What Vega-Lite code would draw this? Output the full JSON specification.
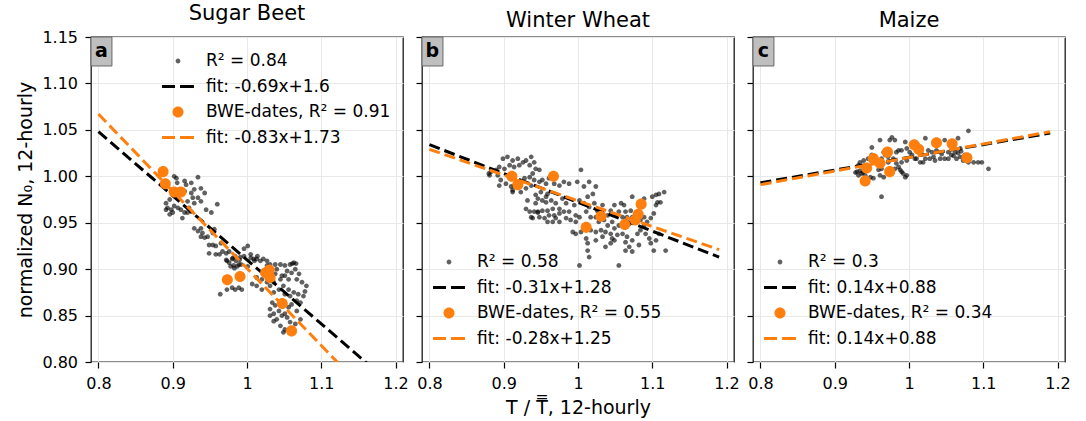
{
  "$schema": "https://vega.github.io/schema/vega-lite/v6.json",
  "padding": {"left": 16, "top": 2, "right": 5, "bottom": 5},
  "bounds": "flush",
  "config": {
    "font": "DejaVu Sans",
    "view": {"stroke": "#1a1a1a", "strokeWidth": 1.3},
    "axis": {"domain": false, "grid": true, "gridColor": "#e8e8e8", "gridWidth": 1, "tickColor": "#000", "tickSize": 6, "tickWidth": 1.2, "labelColor": "#000", "labelFontSize": 16, "titleColor": "#000", "titleFontSize": 19, "titleFontWeight": "normal", "labelFont": "DejaVu Sans", "titleFont": "DejaVu Sans"},
    "legend": {"labelFontSize": 17, "labelFont": "DejaVu Sans", "labelColor": "#000", "labelLimit": 400, "symbolSize": 576, "symbolStrokeWidth": 0, "labelOffset": 16, "rowPadding": 5.5, "padding": 0},
    "title": {"fontSize": 21, "fontWeight": "normal", "color": "#000", "offset": 5, "font": "DejaVu Sans"}
  },
  "datasets": {
    "pts": [
      {"p":"a","s":"all","x":0.905,"y":0.998},{"p":"a","s":"all","x":0.916,"y":0.995},{"p":"a","s":"all","x":0.925,"y":0.993},{"p":"a","s":"all","x":0.934,"y":0.999},{"p":"a","s":"all","x":0.906,"y":0.993},{"p":"a","s":"all","x":0.918,"y":0.991},{"p":"a","s":"all","x":0.898,"y":0.984},{"p":"a","s":"all","x":0.900,"y":0.980},{"p":"a","s":"all","x":0.909,"y":0.986},{"p":"a","s":"all","x":0.916,"y":0.984},{"p":"a","s":"all","x":0.925,"y":0.982},{"p":"a","s":"all","x":0.929,"y":0.986},{"p":"a","s":"all","x":0.938,"y":0.987},{"p":"a","s":"all","x":0.943,"y":0.982},{"p":"a","s":"all","x":0.934,"y":0.977},{"p":"a","s":"all","x":0.938,"y":0.973},{"p":"a","s":"all","x":0.927,"y":0.977},{"p":"a","s":"all","x":0.920,"y":0.973},{"p":"a","s":"all","x":0.929,"y":0.971},{"p":"a","s":"all","x":0.896,"y":0.975},{"p":"a","s":"all","x":0.891,"y":0.971},{"p":"a","s":"all","x":0.893,"y":0.966},{"p":"a","s":"all","x":0.898,"y":0.964},{"p":"a","s":"all","x":0.902,"y":0.968},{"p":"a","s":"all","x":0.907,"y":0.966},{"p":"a","s":"all","x":0.911,"y":0.964},{"p":"a","s":"all","x":0.916,"y":0.961},{"p":"a","s":"all","x":0.913,"y":0.955},{"p":"a","s":"all","x":0.920,"y":0.961},{"p":"a","s":"all","x":0.925,"y":0.962},{"p":"a","s":"all","x":0.922,"y":0.966},{"p":"a","s":"all","x":0.891,"y":0.964},{"p":"a","s":"all","x":0.896,"y":0.959},{"p":"a","s":"all","x":0.900,"y":0.961},{"p":"a","s":"all","x":0.960,"y":0.970},{"p":"a","s":"all","x":0.945,"y":0.964},{"p":"a","s":"all","x":0.952,"y":0.961},{"p":"a","s":"all","x":0.929,"y":0.944},{"p":"a","s":"all","x":0.934,"y":0.941},{"p":"a","s":"all","x":0.940,"y":0.939},{"p":"a","s":"all","x":0.938,"y":0.944},{"p":"a","s":"all","x":0.943,"y":0.934},{"p":"a","s":"all","x":0.947,"y":0.935},{"p":"a","s":"all","x":0.938,"y":0.935},{"p":"a","s":"all","x":0.954,"y":0.939},{"p":"a","s":"all","x":0.956,"y":0.943},{"p":"a","s":"all","x":0.949,"y":0.926},{"p":"a","s":"all","x":0.954,"y":0.926},{"p":"a","s":"all","x":0.958,"y":0.925},{"p":"a","s":"all","x":0.965,"y":0.928},{"p":"a","s":"all","x":0.949,"y":0.917},{"p":"a","s":"all","x":0.958,"y":0.916},{"p":"a","s":"all","x":0.963,"y":0.916},{"p":"a","s":"all","x":0.972,"y":0.917},{"p":"a","s":"all","x":0.976,"y":0.919},{"p":"a","s":"all","x":0.967,"y":0.919},{"p":"a","s":"all","x":0.972,"y":0.910},{"p":"a","s":"all","x":0.981,"y":0.912},{"p":"a","s":"all","x":0.985,"y":0.909},{"p":"a","s":"all","x":0.976,"y":0.907},{"p":"a","s":"all","x":0.990,"y":0.910},{"p":"a","s":"all","x":0.992,"y":0.905},{"p":"a","s":"all","x":1.001,"y":0.925},{"p":"a","s":"all","x":0.996,"y":0.914},{"p":"a","s":"all","x":1.001,"y":0.903},{"p":"a","s":"all","x":1.005,"y":0.912},{"p":"a","s":"all","x":1.010,"y":0.909},{"p":"a","s":"all","x":1.014,"y":0.914},{"p":"a","s":"all","x":0.987,"y":0.903},{"p":"a","s":"all","x":0.983,"y":0.901},{"p":"a","s":"all","x":0.978,"y":0.903},{"p":"a","s":"all","x":0.902,"y":1.000},
      {"p":"a","s":"all","x":0.964,"y":0.873},{"p":"a","s":"all","x":0.973,"y":0.878},{"p":"a","s":"all","x":0.980,"y":0.880},{"p":"a","s":"all","x":0.984,"y":0.878},{"p":"a","s":"all","x":0.989,"y":0.880},{"p":"a","s":"all","x":0.993,"y":0.878},{"p":"a","s":"all","x":0.973,"y":0.909},{"p":"a","s":"all","x":0.980,"y":0.911},{"p":"a","s":"all","x":0.984,"y":0.914},{"p":"a","s":"all","x":0.989,"y":0.905},{"p":"a","s":"all","x":0.991,"y":0.913},{"p":"a","s":"all","x":0.982,"y":0.904},{"p":"a","s":"all","x":0.996,"y":0.922},{"p":"a","s":"all","x":1.005,"y":0.916},{"p":"a","s":"all","x":1.009,"y":0.911},{"p":"a","s":"all","x":1.013,"y":0.911},{"p":"a","s":"all","x":1.018,"y":0.909},{"p":"a","s":"all","x":1.022,"y":0.911},{"p":"a","s":"all","x":1.027,"y":0.909},{"p":"a","s":"all","x":1.031,"y":0.905},{"p":"a","s":"all","x":1.038,"y":0.905},{"p":"a","s":"all","x":1.045,"y":0.905},{"p":"a","s":"all","x":1.051,"y":0.904},{"p":"a","s":"all","x":1.058,"y":0.905},{"p":"a","s":"all","x":1.063,"y":0.907},{"p":"a","s":"all","x":1.054,"y":0.898},{"p":"a","s":"all","x":1.060,"y":0.896},{"p":"a","s":"all","x":1.067,"y":0.889},{"p":"a","s":"all","x":1.056,"y":0.889},{"p":"a","s":"all","x":1.045,"y":0.889},{"p":"a","s":"all","x":1.036,"y":0.886},{"p":"a","s":"all","x":1.049,"y":0.882},{"p":"a","s":"all","x":1.056,"y":0.878},{"p":"a","s":"all","x":1.063,"y":0.875},{"p":"a","s":"all","x":1.069,"y":0.873},{"p":"a","s":"all","x":1.058,"y":0.871},{"p":"a","s":"all","x":1.051,"y":0.873},{"p":"a","s":"all","x":1.043,"y":0.878},{"p":"a","s":"all","x":1.036,"y":0.875},{"p":"a","s":"all","x":1.031,"y":0.882},{"p":"a","s":"all","x":1.027,"y":0.886},{"p":"a","s":"all","x":1.020,"y":0.889},{"p":"a","s":"all","x":1.013,"y":0.891},{"p":"a","s":"all","x":1.007,"y":0.884},{"p":"a","s":"all","x":1.013,"y":0.882},{"p":"a","s":"all","x":1.020,"y":0.878},{"p":"a","s":"all","x":1.038,"y":0.895},{"p":"a","s":"all","x":1.047,"y":0.893},{"p":"a","s":"all","x":1.051,"y":0.893},{"p":"a","s":"all","x":1.040,"y":0.900},{"p":"a","s":"all","x":1.031,"y":0.896},{"p":"a","s":"all","x":1.022,"y":0.896},{"p":"a","s":"all","x":1.027,"y":0.904},{"p":"a","s":"all","x":1.034,"y":0.864},{"p":"a","s":"all","x":1.038,"y":0.861},{"p":"a","s":"all","x":1.031,"y":0.857},{"p":"a","s":"all","x":1.036,"y":0.852},{"p":"a","s":"all","x":1.043,"y":0.855},{"p":"a","s":"all","x":1.047,"y":0.850},{"p":"a","s":"all","x":1.051,"y":0.852},{"p":"a","s":"all","x":1.040,"y":0.846},{"p":"a","s":"all","x":1.045,"y":0.839},{"p":"a","s":"all","x":1.049,"y":0.832},{"p":"a","s":"all","x":1.051,"y":0.835},{"p":"a","s":"all","x":1.058,"y":0.843},{"p":"a","s":"all","x":1.065,"y":0.841},{"p":"a","s":"all","x":1.036,"y":0.844},{"p":"a","s":"all","x":1.031,"y":0.850},{"p":"a","s":"all","x":1.056,"y":0.859},{"p":"a","s":"all","x":1.060,"y":0.862},{"p":"a","s":"all","x":1.067,"y":0.866},{"p":"a","s":"all","x":1.072,"y":0.864},{"p":"a","s":"all","x":1.076,"y":0.871},{"p":"a","s":"all","x":1.067,"y":0.855},{"p":"a","s":"all","x":1.072,"y":0.846},{"p":"a","s":"all","x":1.054,"y":0.848},{"p":"a","s":"all","x":1.047,"y":0.866},{"p":"a","s":"all","x":1.080,"y":0.882},{"p":"a","s":"all","x":1.078,"y":0.876},{"p":"a","s":"all","x":1.074,"y":0.886},{"p":"a","s":"all","x":1.070,"y":0.895},{"p":"a","s":"all","x":1.065,"y":0.900},{"p":"a","s":"all","x":1.061,"y":0.906},{"p":"a","s":"all","x":1.066,"y":0.906},
      {"p":"a","s":"bwe","x":0.887,"y":1.005},{"p":"a","s":"bwe","x":0.890,"y":0.992},{"p":"a","s":"bwe","x":0.902,"y":0.983},{"p":"a","s":"bwe","x":0.911,"y":0.983},{"p":"a","s":"bwe","x":0.9735,"y":0.8885},{"p":"a","s":"bwe","x":0.9906,"y":0.892},{"p":"a","s":"bwe","x":1.025,"y":0.896},{"p":"a","s":"bwe","x":1.030,"y":0.899},{"p":"a","s":"bwe","x":1.031,"y":0.891},{"p":"a","s":"bwe","x":1.0475,"y":0.863},{"p":"a","s":"bwe","x":1.060,"y":0.8335},
      {"p":"b","s":"all","x":0.899,"y":1.019},{"p":"b","s":"all","x":0.905,"y":1.021},{"p":"b","s":"all","x":0.912,"y":1.017},{"p":"b","s":"all","x":0.919,"y":1.019},{"p":"b","s":"all","x":0.926,"y":1.015},{"p":"b","s":"all","x":0.930,"y":1.017},{"p":"b","s":"all","x":0.935,"y":1.012},{"p":"b","s":"all","x":0.921,"y":1.012},{"p":"b","s":"all","x":0.914,"y":1.010},{"p":"b","s":"all","x":0.908,"y":1.012},{"p":"b","s":"all","x":0.901,"y":1.008},{"p":"b","s":"all","x":0.894,"y":1.010},{"p":"b","s":"all","x":0.890,"y":1.007},{"p":"b","s":"all","x":0.883,"y":1.005},{"p":"b","s":"all","x":0.881,"y":1.001},{"p":"b","s":"all","x":0.892,"y":1.001},{"p":"b","s":"all","x":0.896,"y":0.996},{"p":"b","s":"all","x":0.903,"y":0.992},{"p":"b","s":"all","x":0.910,"y":0.989},{"p":"b","s":"all","x":0.912,"y":0.985},{"p":"b","s":"all","x":0.914,"y":0.990},{"p":"b","s":"all","x":0.921,"y":0.994},{"p":"b","s":"all","x":0.928,"y":0.998},{"p":"b","s":"all","x":0.935,"y":0.999},{"p":"b","s":"all","x":0.939,"y":1.003},{"p":"b","s":"all","x":0.941,"y":0.996},{"p":"b","s":"all","x":0.948,"y":0.994},{"p":"b","s":"all","x":0.952,"y":0.996},{"p":"b","s":"all","x":0.957,"y":0.992},{"p":"b","s":"all","x":0.943,"y":1.008},{"p":"b","s":"all","x":0.937,"y":0.990},{"p":"b","s":"all","x":0.930,"y":0.987},{"p":"b","s":"all","x":0.923,"y":0.983},{"p":"b","s":"all","x":0.912,"y":0.983},{"p":"b","s":"all","x":0.894,"y":0.990},{"p":"b","s":"all","x":0.937,"y":1.021},{"p":"b","s":"all","x":0.941,"y":1.015},{"p":"b","s":"all","x":0.948,"y":1.007},{"p":"b","s":"all","x":0.961,"y":0.998},{"p":"b","s":"all","x":0.968,"y":0.992},{"p":"b","s":"all","x":0.975,"y":0.990},{"p":"b","s":"all","x":0.981,"y":0.994},{"p":"b","s":"all","x":0.988,"y":0.992},{"p":"b","s":"all","x":0.950,"y":0.983},{"p":"b","s":"all","x":0.959,"y":0.981},{"p":"b","s":"all","x":0.946,"y":0.976},{"p":"b","s":"all","x":0.952,"y":0.974},{"p":"b","s":"all","x":0.943,"y":0.971},{"p":"b","s":"all","x":0.957,"y":0.972},{"p":"b","s":"all","x":0.964,"y":0.974},{"p":"b","s":"all","x":0.970,"y":0.971},{"p":"b","s":"all","x":0.979,"y":0.976},{"p":"b","s":"all","x":0.984,"y":0.971},{"p":"b","s":"all","x":0.975,"y":0.965},{"p":"b","s":"all","x":0.966,"y":0.965},{"p":"b","s":"all","x":0.959,"y":0.963},{"p":"b","s":"all","x":0.952,"y":0.963},{"p":"b","s":"all","x":0.946,"y":0.962},{"p":"b","s":"all","x":0.948,"y":0.956},{"p":"b","s":"all","x":0.955,"y":0.955},{"p":"b","s":"all","x":0.961,"y":0.958},{"p":"b","s":"all","x":0.968,"y":0.958},{"p":"b","s":"all","x":0.975,"y":0.960},{"p":"b","s":"all","x":0.981,"y":0.962},{"p":"b","s":"all","x":0.988,"y":0.962},{"p":"b","s":"all","x":0.995,"y":0.969},{"p":"b","s":"all","x":0.997,"y":0.958},{"p":"b","s":"all","x":0.937,"y":0.956},{"p":"b","s":"all","x":0.941,"y":0.962},{"p":"b","s":"all","x":0.939,"y":0.955},{"p":"b","s":"all","x":0.959,"y":0.951},{"p":"b","s":"all","x":0.966,"y":0.951},{"p":"b","s":"all","x":0.970,"y":0.955},{"p":"b","s":"all","x":0.975,"y":0.951},{"p":"b","s":"all","x":0.984,"y":0.955},{"p":"b","s":"all","x":0.990,"y":0.953},{"p":"b","s":"all","x":0.997,"y":0.951},{"p":"b","s":"all","x":1.002,"y":0.956},{"p":"b","s":"all","x":0.999,"y":0.994},{"p":"b","s":"all","x":1.008,"y":0.989},{"p":"b","s":"all","x":1.015,"y":0.994},{"p":"b","s":"all","x":1.004,"y":1.007},{"p":"b","s":"all","x":1.020,"y":0.981},{"p":"b","s":"all","x":1.024,"y":0.989},{"p":"b","s":"all","x":1.013,"y":0.978},{"p":"b","s":"all","x":1.002,"y":0.974},{"p":"b","s":"all","x":1.008,"y":0.971},{"p":"b","s":"all","x":1.015,"y":0.967},{"p":"b","s":"all","x":1.022,"y":0.971},{"p":"b","s":"all","x":1.026,"y":0.963},{"p":"b","s":"all","x":1.011,"y":0.962},{"p":"b","s":"all","x":1.017,"y":0.956},{"p":"b","s":"all","x":1.024,"y":0.956},{"p":"b","s":"all","x":1.028,"y":0.951},{"p":"b","s":"all","x":1.035,"y":0.953},{"p":"b","s":"all","x":1.040,"y":0.958},{"p":"b","s":"all","x":1.044,"y":0.963},{"p":"b","s":"all","x":1.049,"y":0.969},{"p":"b","s":"all","x":1.033,"y":0.969},{"p":"b","s":"all","x":1.040,"y":0.947},{"p":"b","s":"all","x":1.046,"y":0.951},{"p":"b","s":"all","x":1.051,"y":0.958},{"p":"b","s":"all","x":1.055,"y":0.962},{"p":"b","s":"all","x":1.060,"y":0.956},{"p":"b","s":"all","x":1.064,"y":0.962},{"p":"b","s":"all","x":1.066,"y":0.956},{"p":"b","s":"all","x":1.071,"y":0.963},{"p":"b","s":"all","x":1.073,"y":0.956},{"p":"b","s":"all","x":1.075,"y":0.951},{"p":"b","s":"all","x":1.069,"y":0.949},{"p":"b","s":"all","x":1.062,"y":0.946},{"p":"b","s":"all","x":1.055,"y":0.947},{"p":"b","s":"all","x":1.049,"y":0.944},{"p":"b","s":"all","x":1.044,"y":0.938},{"p":"b","s":"all","x":1.037,"y":0.940},{"p":"b","s":"all","x":1.031,"y":0.942},{"p":"b","s":"all","x":1.024,"y":0.940},{"p":"b","s":"all","x":1.017,"y":0.942},{"p":"b","s":"all","x":1.011,"y":0.944},{"p":"b","s":"all","x":1.004,"y":0.940},{"p":"b","s":"all","x":0.997,"y":0.938},{"p":"b","s":"all","x":0.993,"y":0.940},{"p":"b","s":"all","x":1.011,"y":0.933},{"p":"b","s":"all","x":1.013,"y":0.928},{"p":"b","s":"all","x":1.013,"y":0.920},{"p":"b","s":"all","x":1.015,"y":0.913},{"p":"b","s":"all","x":1.002,"y":0.904},{"p":"b","s":"all","x":1.024,"y":0.931},{"p":"b","s":"all","x":1.033,"y":0.935},{"p":"b","s":"all","x":1.046,"y":0.933},{"p":"b","s":"all","x":1.053,"y":0.937},{"p":"b","s":"all","x":1.060,"y":0.938},{"p":"b","s":"all","x":1.066,"y":0.935},{"p":"b","s":"all","x":1.073,"y":0.931},{"p":"b","s":"all","x":1.080,"y":0.938},{"p":"b","s":"all","x":1.084,"y":0.942},{"p":"b","s":"all","x":1.089,"y":0.947},{"p":"b","s":"all","x":1.093,"y":0.951},{"p":"b","s":"all","x":1.098,"y":0.955},{"p":"b","s":"all","x":1.089,"y":0.956},{"p":"b","s":"all","x":1.084,"y":0.953},{"p":"b","s":"all","x":1.091,"y":0.938},{"p":"b","s":"all","x":1.096,"y":0.933},{"p":"b","s":"all","x":1.098,"y":0.928},{"p":"b","s":"all","x":1.105,"y":0.931},{"p":"b","s":"all","x":1.109,"y":0.938},{"p":"b","s":"all","x":1.102,"y":0.920},{"p":"b","s":"all","x":1.118,"y":0.920},{"p":"b","s":"all","x":1.082,"y":0.926},{"p":"b","s":"all","x":1.069,"y":0.924},{"p":"b","s":"all","x":1.064,"y":0.920},{"p":"b","s":"all","x":1.073,"y":0.919},{"p":"b","s":"all","x":1.055,"y":0.904},{"p":"b","s":"all","x":1.049,"y":0.931},{"p":"b","s":"all","x":1.044,"y":0.928},{"p":"b","s":"all","x":1.037,"y":0.924},{"p":"b","s":"all","x":1.064,"y":0.929},{"p":"b","s":"all","x":1.062,"y":0.969},{"p":"b","s":"all","x":1.058,"y":0.971},{"p":"b","s":"all","x":1.073,"y":0.978},{"p":"b","s":"all","x":1.087,"y":0.971},{"p":"b","s":"all","x":1.089,"y":0.976},{"p":"b","s":"all","x":1.100,"y":0.978},{"p":"b","s":"all","x":1.105,"y":0.980},{"p":"b","s":"all","x":1.109,"y":0.981},{"p":"b","s":"all","x":1.116,"y":0.983},{"p":"b","s":"all","x":1.111,"y":0.972},{"p":"b","s":"all","x":1.107,"y":0.972},{"p":"b","s":"all","x":1.105,"y":0.969},{"p":"b","s":"all","x":1.102,"y":0.960},{"p":"b","s":"all","x":0.943,"y":0.980},{"p":"b","s":"all","x":0.957,"y":0.978},{"p":"b","s":"all","x":0.932,"y":0.974},{"p":"b","s":"all","x":0.930,"y":0.965},{"p":"b","s":"all","x":0.935,"y":0.962},{"p":"b","s":"all","x":0.880,"y":1.003},{"p":"b","s":"all","x":0.946,"y":0.961},
      {"p":"b","s":"bwe","x":0.911,"y":1.000},{"p":"b","s":"bwe","x":0.919,"y":0.991},{"p":"b","s":"bwe","x":0.967,"y":1.000},{"p":"b","s":"bwe","x":1.011,"y":0.945},{"p":"b","s":"bwe","x":1.031,"y":0.957},{"p":"b","s":"bwe","x":1.063,"y":0.948},{"p":"b","s":"bwe","x":1.077,"y":0.953},{"p":"b","s":"bwe","x":1.081,"y":0.959},{"p":"b","s":"bwe","x":1.085,"y":0.970},
      {"p":"c","s":"all","x":0.961,"y":1.039},{"p":"c","s":"all","x":0.977,"y":1.042},{"p":"c","s":"all","x":0.981,"y":1.039},{"p":"c","s":"all","x":0.974,"y":1.039},{"p":"c","s":"all","x":0.995,"y":1.037},{"p":"c","s":"all","x":1.022,"y":1.041},{"p":"c","s":"all","x":1.080,"y":1.049},{"p":"c","s":"all","x":1.048,"y":1.039},{"p":"c","s":"all","x":1.066,"y":1.041},{"p":"c","s":"all","x":0.950,"y":1.031},{"p":"c","s":"all","x":0.966,"y":1.026},{"p":"c","s":"all","x":0.986,"y":1.028},{"p":"c","s":"all","x":0.990,"y":1.028},{"p":"c","s":"all","x":0.983,"y":1.026},{"p":"c","s":"all","x":1.001,"y":1.026},{"p":"c","s":"all","x":1.004,"y":1.023},{"p":"c","s":"all","x":1.010,"y":1.019},{"p":"c","s":"all","x":1.017,"y":1.024},{"p":"c","s":"all","x":1.026,"y":1.028},{"p":"c","s":"all","x":1.031,"y":1.026},{"p":"c","s":"all","x":1.037,"y":1.028},{"p":"c","s":"all","x":1.044,"y":1.024},{"p":"c","s":"all","x":1.053,"y":1.026},{"p":"c","s":"all","x":1.062,"y":1.026},{"p":"c","s":"all","x":1.069,"y":1.021},{"p":"c","s":"all","x":1.057,"y":1.023},{"p":"c","s":"all","x":1.064,"y":1.019},{"p":"c","s":"all","x":1.048,"y":1.019},{"p":"c","s":"all","x":1.035,"y":1.017},{"p":"c","s":"all","x":1.028,"y":1.019},{"p":"c","s":"all","x":1.019,"y":1.015},{"p":"c","s":"all","x":1.008,"y":1.019},{"p":"c","s":"all","x":0.997,"y":1.017},{"p":"c","s":"all","x":0.990,"y":1.015},{"p":"c","s":"all","x":0.983,"y":1.014},{"p":"c","s":"all","x":0.979,"y":1.019},{"p":"c","s":"all","x":0.972,"y":1.015},{"p":"c","s":"all","x":0.963,"y":1.019},{"p":"c","s":"all","x":0.957,"y":1.017},{"p":"c","s":"all","x":0.950,"y":1.023},{"p":"c","s":"all","x":0.945,"y":1.019},{"p":"c","s":"all","x":0.939,"y":1.017},{"p":"c","s":"all","x":0.934,"y":1.015},{"p":"c","s":"all","x":0.932,"y":1.012},{"p":"c","s":"all","x":0.939,"y":1.010},{"p":"c","s":"all","x":0.930,"y":1.005},{"p":"c","s":"all","x":0.932,"y":1.001},{"p":"c","s":"all","x":0.936,"y":1.003},{"p":"c","s":"all","x":0.941,"y":1.001},{"p":"c","s":"all","x":0.948,"y":0.999},{"p":"c","s":"all","x":0.952,"y":0.998},{"p":"c","s":"all","x":0.961,"y":1.001},{"p":"c","s":"all","x":0.966,"y":0.999},{"p":"c","s":"all","x":0.963,"y":1.008},{"p":"c","s":"all","x":0.959,"y":1.007},{"p":"c","s":"all","x":0.986,"y":1.010},{"p":"c","s":"all","x":0.988,"y":1.007},{"p":"c","s":"all","x":0.992,"y":1.003},{"p":"c","s":"all","x":0.997,"y":1.001},{"p":"c","s":"all","x":0.995,"y":0.999},{"p":"c","s":"all","x":0.990,"y":1.005},{"p":"c","s":"all","x":0.981,"y":1.008},{"p":"c","s":"all","x":1.015,"y":1.015},{"p":"c","s":"all","x":1.022,"y":1.019},{"p":"c","s":"all","x":1.033,"y":1.021},{"p":"c","s":"all","x":1.042,"y":1.019},{"p":"c","s":"all","x":1.053,"y":1.019},{"p":"c","s":"all","x":1.060,"y":1.030},{"p":"c","s":"all","x":1.069,"y":1.030},{"p":"c","s":"all","x":1.075,"y":1.023},{"p":"c","s":"all","x":1.073,"y":1.017},{"p":"c","s":"all","x":1.080,"y":1.015},{"p":"c","s":"all","x":1.087,"y":1.015},{"p":"c","s":"all","x":1.093,"y":1.015},{"p":"c","s":"all","x":1.098,"y":1.015},{"p":"c","s":"all","x":1.107,"y":1.008},{"p":"c","s":"all","x":0.963,"y":0.978},{"p":"c","s":"all","x":1.006,"y":1.032},{"p":"c","s":"all","x":1.013,"y":1.033},{"p":"c","s":"all","x":0.997,"y":1.030},{"p":"c","s":"all","x":0.972,"y":1.021},{"p":"c","s":"all","x":0.968,"y":1.023},{"p":"c","s":"all","x":0.928,"y":1.004},{"p":"c","s":"all","x":0.934,"y":1.006},{"p":"c","s":"all","x":0.938,"y":1.004},{"p":"c","s":"all","x":1.066,"y":1.025},{"p":"c","s":"all","x":1.060,"y":1.022},{"p":"c","s":"all","x":1.070,"y":1.027},
      {"p":"c","s":"bwe","x":0.941,"y":0.995},{"p":"c","s":"bwe","x":0.943,"y":1.009},{"p":"c","s":"bwe","x":0.952,"y":1.019},{"p":"c","s":"bwe","x":0.961,"y":1.014},{"p":"c","s":"bwe","x":0.971,"y":1.026},{"p":"c","s":"bwe","x":0.974,"y":1.005},{"p":"c","s":"bwe","x":1.007,"y":1.034},{"p":"c","s":"bwe","x":1.013,"y":1.029},{"p":"c","s":"bwe","x":1.037,"y":1.036},{"p":"c","s":"bwe","x":1.058,"y":1.035},{"p":"c","s":"bwe","x":1.078,"y":1.020}
    ],
    "fits": [
      {"p":"a","s":"fit_all","x":0.8,"y":1.048},{"p":"a","s":"fit_all","x":1.19,"y":0.779},
      {"p":"a","s":"fit_bwe","x":0.8,"y":1.067},{"p":"a","s":"fit_bwe","x":1.19,"y":0.743},
      {"p":"b","s":"fit_all","x":0.8,"y":1.034},{"p":"b","s":"fit_all","x":1.19,"y":0.913},
      {"p":"b","s":"fit_bwe","x":0.8,"y":1.029},{"p":"b","s":"fit_bwe","x":1.19,"y":0.921},
      {"p":"c","s":"fit_all","x":0.8,"y":0.993},{"p":"c","s":"fit_all","x":1.19,"y":1.0465},
      {"p":"c","s":"fit_bwe","x":0.8,"y":0.991},{"p":"c","s":"fit_bwe","x":1.19,"y":1.048}
    ],
    "blank": [{"k": 1}]
  },
  "spacing": 19,
  "resolve": {"scale": {"color": "independent", "shape": "independent"}, "legend": {"color": "independent", "shape": "independent"}},
  "hconcat": [
    {
      "width": 312, "height": 325,
      "title": "Sugar Beet",
      "layer": [
        {"data": {"name": "pts"}, "transform": [{"filter": "datum.p == 'a' && datum.s == 'all'"}], "mark": {"type": "point", "filled": true, "size": 576, "strokeWidth": 0, "opacity": 1},
         "encoding": {
           "x": {"field": "x", "type": "quantitative", "scale": {"domain": [0.79, 1.21], "nice": false, "zero": false}, "axis": {"values": [0.8, 0.9, 1, 1.1, 1.2], "format": "~g", "title": null, "labelPadding": 7}},
           "y": {"field": "y", "type": "quantitative", "scale": {"domain": [0.8, 1.15], "nice": false, "zero": false}, "axis": {"values": [0.8, 0.85, 0.9, 0.95, 1, 1.05, 1.1, 1.15], "format": ".2f", "title": "normalized N₀, 12-hourly", "labelPadding": 7.5, "titlePadding": 6}},
           "color": {"field": "s", "type": "nominal", "scale": {"domain": ["all", "fit_all", "bwe", "fit_bwe"], "range": ["rgba(0,0,0,0.62)", "#000000", "#ff7f0e", "#ff7f0e"]}, "legend": {"title": null, "orient": "top-right", "offset": 12, "labelExpr": "datum.value == 'all' ? 'R² = 0.84' : datum.value == 'fit_all' ? 'fit: -0.69x+1.6' : datum.value == 'bwe' ? 'BWE-dates, R² = 0.91' : 'fit: -0.83x+1.73'"}},
           "shape": {"field": "s", "type": "nominal", "scale": {"domain": ["all", "fit_all", "bwe", "fit_bwe"], "range": ["M -0.2 0 A 0.2 0.2 0 1 1 0.2 0 A 0.2 0.2 0 1 1 -0.2 0 Z", "M -1.33 -0.125 H -0.25 V 0.125 H -1.33 Z M 0.17 -0.125 H 1.33 V 0.125 H 0.17 Z", "M -0.46 0 A 0.46 0.46 0 1 1 0.46 0 A 0.46 0.46 0 1 1 -0.46 0 Z", "M -1.33 -0.125 H -0.25 V 0.125 H -1.33 Z M 0.17 -0.125 H 1.33 V 0.125 H 0.17 Z"]}, "legend": {"title": null, "orient": "top-right", "offset": 12, "labelExpr": "datum.value == 'all' ? 'R² = 0.84' : datum.value == 'fit_all' ? 'fit: -0.69x+1.6' : datum.value == 'bwe' ? 'BWE-dates, R² = 0.91' : 'fit: -0.83x+1.73'"}}
         }},
        {"data": {"name": "fits"}, "transform": [{"filter": "datum.p == 'a' && datum.s == 'fit_all'"}], "mark": {"type": "line", "color": "#000000", "strokeWidth": 3, "strokeDash": [11, 5], "clip": true},
         "encoding": {"x": {"field": "x", "type": "quantitative"}, "y": {"field": "y", "type": "quantitative"}}},
        {"data": {"name": "pts"}, "transform": [{"filter": "datum.p == 'a' && datum.s == 'bwe'"}], "mark": {"type": "point", "filled": true, "size": 576, "strokeWidth": 0, "opacity": 1},
         "encoding": {
           "x": {"field": "x", "type": "quantitative"}, "y": {"field": "y", "type": "quantitative"},
           "color": {"field": "s", "type": "nominal"},
           "shape": {"field": "s", "type": "nominal"}
         }},
        {"data": {"name": "fits"}, "transform": [{"filter": "datum.p == 'a' && datum.s == 'fit_bwe'"}], "mark": {"type": "line", "color": "#ff7f0e", "strokeWidth": 3, "strokeDash": [11, 5], "clip": true},
         "encoding": {"x": {"field": "x", "type": "quantitative"}, "y": {"field": "y", "type": "quantitative"}}},
        {"data": {"name": "blank"}, "mark": {"type": "rect", "fill": "#bfbfbf", "stroke": "#666666", "strokeWidth": 1},
         "encoding": {"x": {"datum": 0.79, "type": "quantitative"}, "x2": {"datum": 0.8182}, "y": {"datum": 1.15, "type": "quantitative"}, "y2": {"datum": 1.1188}}},
        {"data": {"name": "blank"}, "mark": {"type": "text", "text": "a", "fontWeight": "bold", "fontSize": 19, "color": "#000000", "align": "center", "baseline": "middle"},
         "encoding": {"x": {"datum": 0.804, "type": "quantitative"}, "y": {"datum": 1.1345, "type": "quantitative"}}}
      ]
    },
    {
      "width": 312, "height": 325,
      "title": "Winter Wheat",
      "layer": [
        {"data": {"name": "pts"}, "transform": [{"filter": "datum.p == 'b' && datum.s == 'all'"}], "mark": {"type": "point", "filled": true, "size": 576, "strokeWidth": 0, "opacity": 1},
         "encoding": {
           "x": {"field": "x", "type": "quantitative", "scale": {"domain": [0.79, 1.21], "nice": false, "zero": false}, "axis": {"values": [0.8, 0.9, 1, 1.1, 1.2], "format": "~g", "title": "T / T̿, 12-hourly", "labelPadding": 7, "titlePadding": 7}},
           "y": {"field": "y", "type": "quantitative", "scale": {"domain": [0.8, 1.15], "nice": false, "zero": false}, "axis": {"values": [0.8, 0.85, 0.9, 0.95, 1, 1.05, 1.1, 1.15], "labels": false, "title": null}},
           "color": {"field": "s", "type": "nominal", "scale": {"domain": ["all", "fit_all", "bwe", "fit_bwe"], "range": ["rgba(0,0,0,0.62)", "#000000", "#ff7f0e", "#ff7f0e"]}, "legend": {"title": null, "orient": "bottom-left", "offset": 15, "labelExpr": "datum.value == 'all' ? 'R² = 0.58' : datum.value == 'fit_all' ? 'fit: -0.31x+1.28' : datum.value == 'bwe' ? 'BWE-dates, R² = 0.55' : 'fit: -0.28x+1.25'"}},
           "shape": {"field": "s", "type": "nominal", "scale": {"domain": ["all", "fit_all", "bwe", "fit_bwe"], "range": ["M -0.2 0 A 0.2 0.2 0 1 1 0.2 0 A 0.2 0.2 0 1 1 -0.2 0 Z", "M -1.33 -0.125 H -0.25 V 0.125 H -1.33 Z M 0.17 -0.125 H 1.33 V 0.125 H 0.17 Z", "M -0.46 0 A 0.46 0.46 0 1 1 0.46 0 A 0.46 0.46 0 1 1 -0.46 0 Z", "M -1.33 -0.125 H -0.25 V 0.125 H -1.33 Z M 0.17 -0.125 H 1.33 V 0.125 H 0.17 Z"]}, "legend": {"title": null, "orient": "bottom-left", "offset": 15, "labelExpr": "datum.value == 'all' ? 'R² = 0.58' : datum.value == 'fit_all' ? 'fit: -0.31x+1.28' : datum.value == 'bwe' ? 'BWE-dates, R² = 0.55' : 'fit: -0.28x+1.25'"}}
         }},
        {"data": {"name": "fits"}, "transform": [{"filter": "datum.p == 'b' && datum.s == 'fit_all'"}], "mark": {"type": "line", "color": "#000000", "strokeWidth": 3, "strokeDash": [11, 5], "clip": true},
         "encoding": {"x": {"field": "x", "type": "quantitative"}, "y": {"field": "y", "type": "quantitative"}}},
        {"data": {"name": "pts"}, "transform": [{"filter": "datum.p == 'b' && datum.s == 'bwe'"}], "mark": {"type": "point", "filled": true, "size": 576, "strokeWidth": 0, "opacity": 1},
         "encoding": {
           "x": {"field": "x", "type": "quantitative"}, "y": {"field": "y", "type": "quantitative"},
           "color": {"field": "s", "type": "nominal"},
           "shape": {"field": "s", "type": "nominal"}
         }},
        {"data": {"name": "fits"}, "transform": [{"filter": "datum.p == 'b' && datum.s == 'fit_bwe'"}], "mark": {"type": "line", "color": "#ff7f0e", "strokeWidth": 3, "strokeDash": [11, 5], "clip": true},
         "encoding": {"x": {"field": "x", "type": "quantitative"}, "y": {"field": "y", "type": "quantitative"}}},
        {"data": {"name": "blank"}, "mark": {"type": "rect", "fill": "#bfbfbf", "stroke": "#666666", "strokeWidth": 1},
         "encoding": {"x": {"datum": 0.79, "type": "quantitative"}, "x2": {"datum": 0.8182}, "y": {"datum": 1.15, "type": "quantitative"}, "y2": {"datum": 1.1188}}},
        {"data": {"name": "blank"}, "mark": {"type": "text", "text": "b", "fontWeight": "bold", "fontSize": 19, "color": "#000000", "align": "center", "baseline": "middle"},
         "encoding": {"x": {"datum": 0.804, "type": "quantitative"}, "y": {"datum": 1.1345, "type": "quantitative"}}}
      ]
    },
    {
      "width": 312, "height": 325,
      "title": "Maize",
      "layer": [
        {"data": {"name": "pts"}, "transform": [{"filter": "datum.p == 'c' && datum.s == 'all'"}], "mark": {"type": "point", "filled": true, "size": 576, "strokeWidth": 0, "opacity": 1},
         "encoding": {
           "x": {"field": "x", "type": "quantitative", "scale": {"domain": [0.79, 1.21], "nice": false, "zero": false}, "axis": {"values": [0.8, 0.9, 1, 1.1, 1.2], "format": "~g", "title": null, "labelPadding": 7}},
           "y": {"field": "y", "type": "quantitative", "scale": {"domain": [0.8, 1.15], "nice": false, "zero": false}, "axis": {"values": [0.8, 0.85, 0.9, 0.95, 1, 1.05, 1.1, 1.15], "labels": false, "title": null}},
           "color": {"field": "s", "type": "nominal", "scale": {"domain": ["all", "fit_all", "bwe", "fit_bwe"], "range": ["rgba(0,0,0,0.62)", "#000000", "#ff7f0e", "#ff7f0e"]}, "legend": {"title": null, "orient": "bottom-left", "offset": 15, "labelExpr": "datum.value == 'all' ? 'R² = 0.3' : datum.value == 'fit_all' ? 'fit: 0.14x+0.88' : datum.value == 'bwe' ? 'BWE-dates, R² = 0.34' : 'fit: 0.14x+0.88'"}},
           "shape": {"field": "s", "type": "nominal", "scale": {"domain": ["all", "fit_all", "bwe", "fit_bwe"], "range": ["M -0.2 0 A 0.2 0.2 0 1 1 0.2 0 A 0.2 0.2 0 1 1 -0.2 0 Z", "M -1.33 -0.125 H -0.25 V 0.125 H -1.33 Z M 0.17 -0.125 H 1.33 V 0.125 H 0.17 Z", "M -0.46 0 A 0.46 0.46 0 1 1 0.46 0 A 0.46 0.46 0 1 1 -0.46 0 Z", "M -1.33 -0.125 H -0.25 V 0.125 H -1.33 Z M 0.17 -0.125 H 1.33 V 0.125 H 0.17 Z"]}, "legend": {"title": null, "orient": "bottom-left", "offset": 15, "labelExpr": "datum.value == 'all' ? 'R² = 0.3' : datum.value == 'fit_all' ? 'fit: 0.14x+0.88' : datum.value == 'bwe' ? 'BWE-dates, R² = 0.34' : 'fit: 0.14x+0.88'"}}
         }},
        {"data": {"name": "fits"}, "transform": [{"filter": "datum.p == 'c' && datum.s == 'fit_all'"}], "mark": {"type": "line", "color": "#000000", "strokeWidth": 3, "strokeDash": [11, 5], "clip": true},
         "encoding": {"x": {"field": "x", "type": "quantitative"}, "y": {"field": "y", "type": "quantitative"}}},
        {"data": {"name": "pts"}, "transform": [{"filter": "datum.p == 'c' && datum.s == 'bwe'"}], "mark": {"type": "point", "filled": true, "size": 576, "strokeWidth": 0, "opacity": 1},
         "encoding": {
           "x": {"field": "x", "type": "quantitative"}, "y": {"field": "y", "type": "quantitative"},
           "color": {"field": "s", "type": "nominal"},
           "shape": {"field": "s", "type": "nominal"}
         }},
        {"data": {"name": "fits"}, "transform": [{"filter": "datum.p == 'c' && datum.s == 'fit_bwe'"}], "mark": {"type": "line", "color": "#ff7f0e", "strokeWidth": 3, "strokeDash": [11, 5], "clip": true},
         "encoding": {"x": {"field": "x", "type": "quantitative"}, "y": {"field": "y", "type": "quantitative"}}},
        {"data": {"name": "blank"}, "mark": {"type": "rect", "fill": "#bfbfbf", "stroke": "#666666", "strokeWidth": 1},
         "encoding": {"x": {"datum": 0.79, "type": "quantitative"}, "x2": {"datum": 0.8182}, "y": {"datum": 1.15, "type": "quantitative"}, "y2": {"datum": 1.1188}}},
        {"data": {"name": "blank"}, "mark": {"type": "text", "text": "c", "fontWeight": "bold", "fontSize": 19, "color": "#000000", "align": "center", "baseline": "middle"},
         "encoding": {"x": {"datum": 0.804, "type": "quantitative"}, "y": {"datum": 1.1345, "type": "quantitative"}}}
      ]
    }
  ]
}
